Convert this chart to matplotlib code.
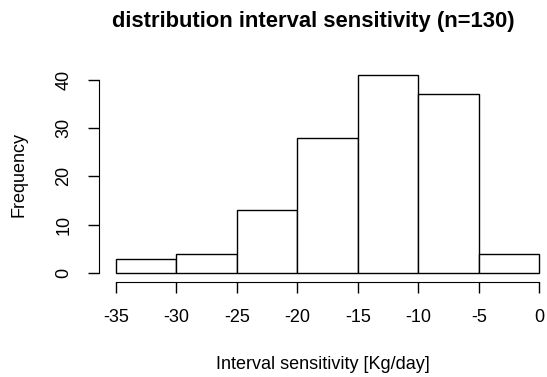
import matplotlib
matplotlib.use("Agg")
import matplotlib.pyplot as plt

# histogram of interval sensitivity, R base graphics look
bin_edges = [-35, -30, -25, -20, -15, -10, -5, 0]
counts = [3, 4, 13, 28, 41, 37, 4]
x_ticks = [-35, -30, -25, -20, -15, -10, -5, 0]
y_ticks = [0, 10, 20, 30, 40]

plt.rcParams['font.family'] = ['Liberation Sans', 'DejaVu Sans']

W, H = 547, 377
fig = plt.figure(figsize=(W / 100, H / 100), dpi=100)
# plot region in pixels: left 99, right 547, top 67, bottom 281
ax = fig.add_axes([99 / W, 1 - 281 / H, (547 - 99) / W, (281 - 67) / H])

ax.hist(bin_edges[:-1], bins=bin_edges, weights=counts,
        facecolor='white', edgecolor='black', linewidth=1.0)

ax.set_xlim(-36.4, 0.64)
ax.set_ylim(-1.64, 42.64)

for side in ['top', 'right']:
    ax.spines[side].set_visible(False)
ax.spines['left'].set_bounds(0, 40)
ax.spines['bottom'].set_bounds(-35, 0)
ax.spines['bottom'].set_position(('outward', 1))

ax.set_xticks(x_ticks)
ax.set_xticklabels([str(t) for t in x_ticks])
ax.set_yticks(y_ticks)
ax.set_yticklabels([str(t) for t in y_ticks], rotation=90, va='center')
ax.tick_params(direction='out', length=8, width=1, labelsize=13, pad=11, colors='black')

ax.set_xlabel('Interval sensitivity [Kg/day]', fontsize=13, labelpad=22)
ax.set_ylabel('Frequency', fontsize=13, labelpad=20)

fig.text(313 / W, 1 - 22 / H, 'distribution interval sensitivity (n=130)',
         ha='center', va='center', fontsize=15.8, fontweight='bold')

fig.savefig('out.png', dpi=100)
